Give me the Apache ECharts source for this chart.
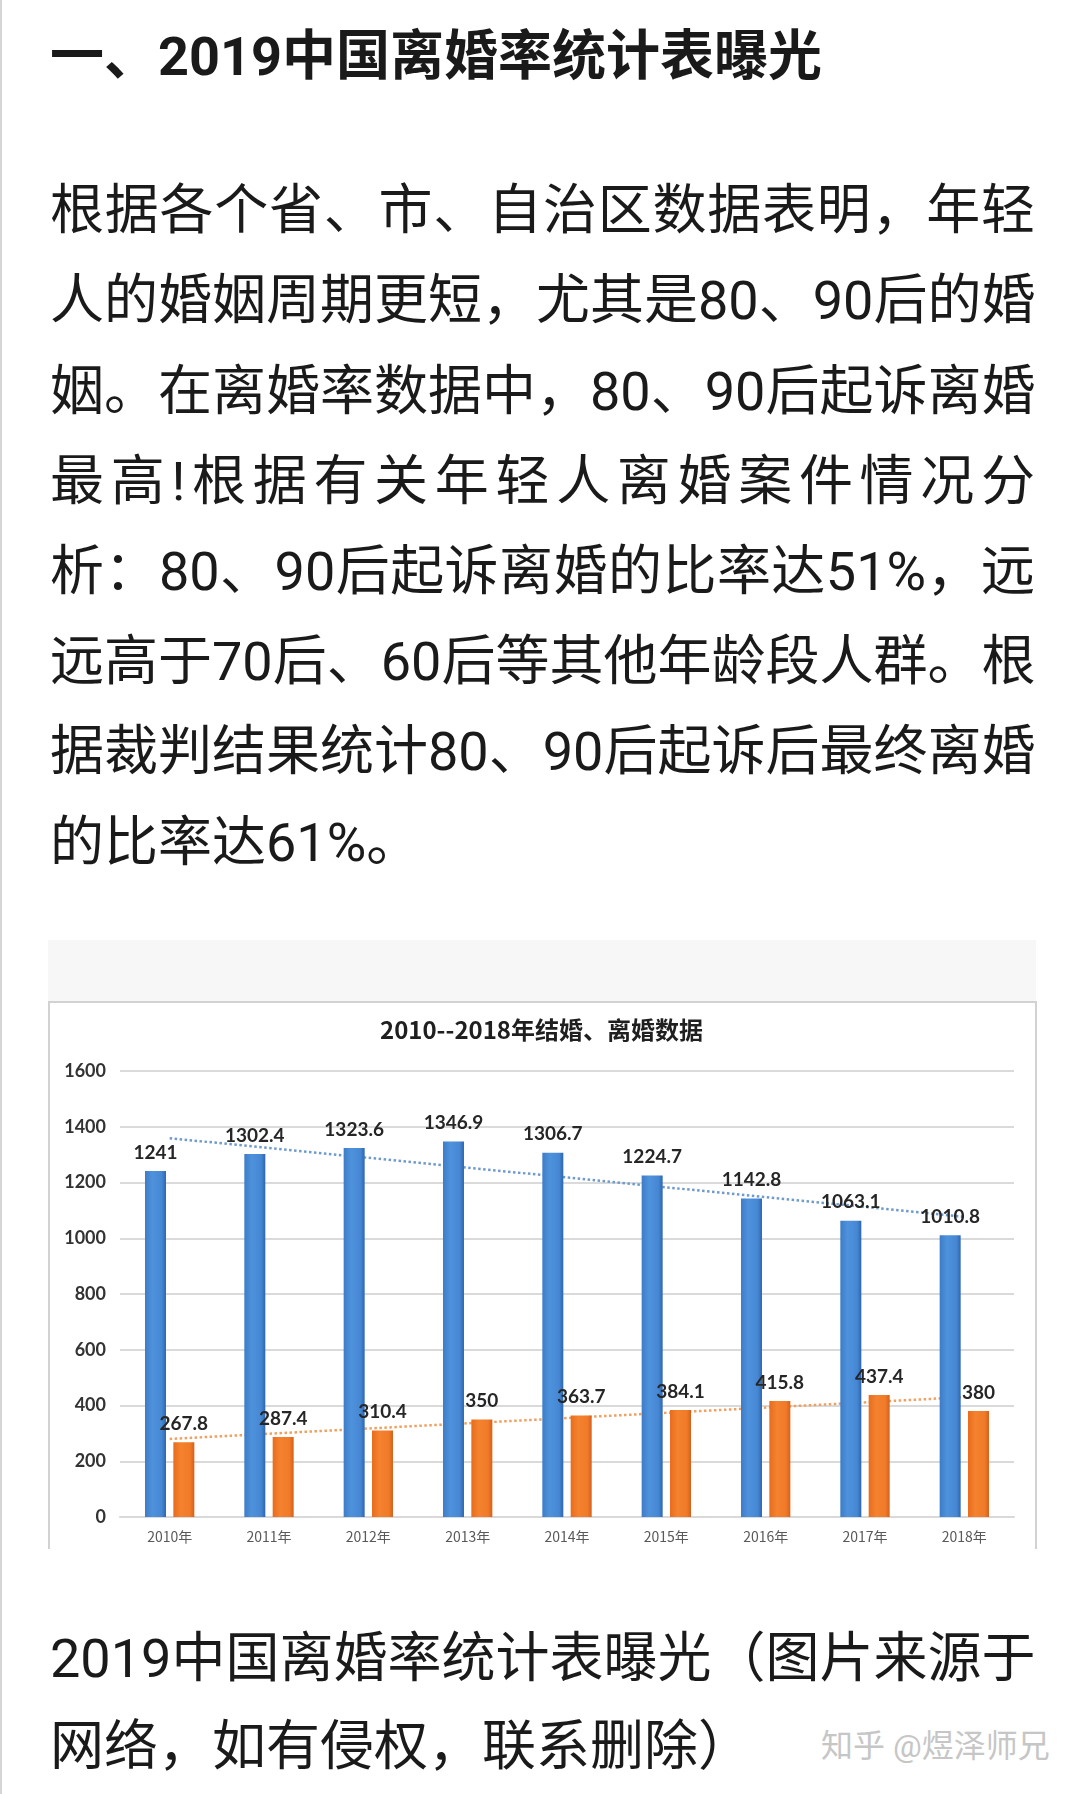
<!DOCTYPE html>
<html>
<head>
<meta charset="utf-8">
<script src="https://cdn.jsdelivr.net/npm/echarts@6/dist/echarts.min.js"></script>
<style>
  html, body { margin: 0; padding: 0; background: #ffffff; }
  body { width: 1080px; height: 1794px; position: relative; overflow: hidden;
         font-family: Roboto, "Noto Sans CJK SC", sans-serif; color: #1a1a1a; }
  .edge { position: absolute; left: 0; top: 0; width: 2px; height: 1794px; background: #d6d6d6; }
  .title { position: absolute; left: 50px; top: 22px; font-size: 54px; font-weight: bold;
           line-height: 70px; white-space: nowrap; color: #1a1a1a; }
  .ln { position: absolute; left: 50px; width: 985px; font-size: 54px; line-height: 90px;
        height: 90px; white-space: nowrap; text-align: justify; text-align-last: justify; }
  .ln.last { text-align: left; text-align-last: left; }
  .greybox { position: absolute; left: 48px; top: 940px; width: 988px; height: 61px; background: #f7f7f7; }
  .chartbox { position: absolute; left: 48px; top: 1001px; width: 985px; height: 546px;
              border-top: 2px solid #d2d2d2; border-left: 2px solid #d2d2d2; border-right: 2px solid #d2d2d2;
              box-sizing: content-box; background: #ffffff; }
  #chart { position: absolute; left: 48px; top: 1001px; width: 987px; height: 546px; }
  .wm { position: absolute; left: 821px; top: 1726px; font-size: 32px; line-height: 40px;
        color: #c6c6c6; white-space: nowrap; }
</style>
</head>
<body>
<div class="edge"></div>
<div class="title">一、2019中国离婚率统计表曝光</div>

<div class="ln" style="top:166px">根据各个省、市、自治区数据表明，年轻</div>
<div class="ln" style="top:256px">人的婚姻周期更短，尤其是80、90后的婚</div>
<div class="ln" style="top:347px">姻。在离婚率数据中，80、90后起诉离婚</div>
<div class="ln" style="top:437px">最高!根据有关年轻人离婚案件情况分</div>
<div class="ln" style="top:527px">析：80、90后起诉离婚的比率达51%，远</div>
<div class="ln" style="top:617px">远高于70后、60后等其他年龄段人群。根</div>
<div class="ln" style="top:707px">据裁判结果统计80、90后起诉后最终离婚</div>
<div class="ln last" style="top:798px">的比率达61%。</div>

<div class="greybox"></div>
<div class="chartbox"></div>
<div id="chart"></div>

<div class="ln" style="top:1614px">2019中国离婚率统计表曝光（图片来源于</div>
<div class="ln last" style="top:1702px">网络，如有侵权，联系删除）</div>
<div class="wm">知乎 @煜泽师兄</div>

<script>
// ---- data ----
const chartTitle = '2010--2018年结婚、离婚数据';
const years = ['2010年', '2011年', '2012年', '2013年', '2014年', '2015年', '2016年', '2017年', '2018年'];
const marriages = [1241, 1302.4, 1323.6, 1346.9, 1306.7, 1224.7, 1142.8, 1063.1, 1010.8];
const divorces = [267.8, 287.4, 310.4, 350, 363.7, 384.1, 415.8, 437.4, 380];
// dotted trend lines: values read at the first (2010) and last (2018) category
const marriageTrendEnds = [1359, 1077];
const divorceTrendEnds = [280, 430];
const yMin = 0, yMax = 1600, yStep = 200;

const chart = echarts.init(document.getElementById('chart'), null, { renderer: 'canvas' });

const lastIdx = years.length - 1;
const barLabel = {
  show: true, position: 'top', distance: 9,
  fontSize: 19, fontWeight: 'bold', color: '#262626', fontFamily: 'Lato, "Noto Sans", sans-serif'
};

chart.setOption({
  animation: false,
  backgroundColor: 'transparent',
  title: {
    text: chartTitle, left: 'center', top: 12,
    textStyle: { fontSize: 24, fontWeight: 'bold', color: '#1f1f1f', fontFamily: '"Noto Sans CJK SC", sans-serif' }
  },
  grid: { left: 72, right: 21, top: 70, bottom: 30, containLabel: false },
  xAxis: {
    type: 'category', data: years,
    axisLine: { show: true, lineStyle: { color: '#d9d9d9', width: 2 } },
    axisTick: { show: false },
    axisLabel: { fontSize: 14, color: '#595959', margin: 13, fontFamily: '"Noto Sans CJK SC", sans-serif' }
  },
  yAxis: {
    type: 'value', min: yMin, max: yMax, interval: yStep,
    axisLine: { show: false }, axisTick: { show: false },
    axisLabel: {
      fontSize: 18, color: '#333333', margin: 14, fontWeight: 'bold',
      fontFamily: 'Lato, "Noto Sans", sans-serif',
      formatter: function (v) { return String(v); }
    },
    splitLine: { lineStyle: { color: '#dadada', width: 2 } }
  },
  series: [
    {
      name: '结婚', type: 'bar', data: marriages, barWidth: 21, barGap: '35%', z: 3,
      itemStyle: {
        color: new echarts.graphic.LinearGradient(0, 0, 1, 0, [
          { offset: 0, color: '#3d7cc8' }, { offset: 0.35, color: '#4f92dc' },
          { offset: 0.8, color: '#4687d3' }, { offset: 1, color: '#2d66ad' }
        ])
      },
      label: barLabel
    },
    {
      name: '离婚', type: 'bar', data: divorces, barWidth: 21, z: 3,
      itemStyle: {
        color: new echarts.graphic.LinearGradient(0, 0, 1, 0, [
          { offset: 0, color: '#e86c1c' }, { offset: 0.35, color: '#f4822f' },
          { offset: 0.8, color: '#f07a28' }, { offset: 1, color: '#d5601a' }
        ])
      },
      label: barLabel
    },
    {
      name: '结婚趋势', type: 'line', z: 1, symbol: 'none', silent: true,
      data: [[0, marriageTrendEnds[0]], [lastIdx, marriageTrendEnds[1]]],
      lineStyle: { color: '#6f9bcc', width: 2.5, type: 'dotted' }
    },
    {
      name: '离婚趋势', type: 'line', z: 1, symbol: 'none', silent: true,
      data: [[0, divorceTrendEnds[0]], [lastIdx, divorceTrendEnds[1]]],
      lineStyle: { color: '#f0a060', width: 2.5, type: 'dotted' }
    }
  ]
});
</script>
</body>
</html>
